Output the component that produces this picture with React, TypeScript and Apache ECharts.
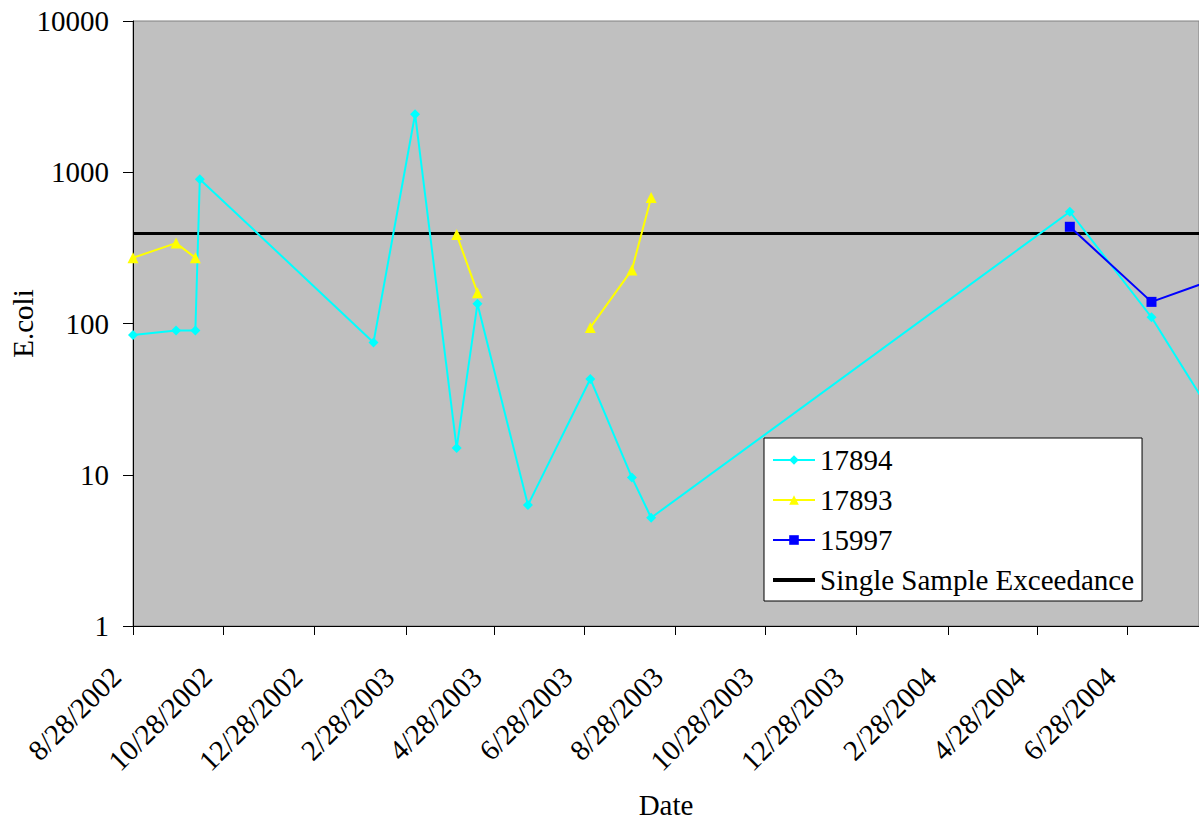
import React, { useEffect, useRef } from "react";
import * as echarts from "echarts";

// ---- data ----
const tickDates = [
  "8/28/2002", "10/28/2002", "12/28/2002", "2/28/2003", "4/28/2003", "6/28/2003",
  "8/28/2003", "10/28/2003", "12/28/2003", "2/28/2004", "4/28/2004", "6/28/2004",
];
const axisMinDate = "8/28/2002";
const axisMaxDate = "8/15/2004";

const dates17894 = [
  "8/28/2002", "9/26/2002", "10/9/2002", "10/12/2002", "2/6/2003", "3/6/2003",
  "4/3/2003", "4/17/2003", "5/21/2003", "7/2/2003", "7/30/2003", "8/12/2003",
  "5/20/2004", "7/14/2004", "8/25/2004",
];
const values17894 = [84, 90, 90, 900, 75, 2420, 15, 135, 6.3, 43, 9.6, 5.2, 548, 110, 24];

// null = no sample for this site on that date (line breaks there)
const dates17893 = [
  "8/28/2002", "9/26/2002", "10/9/2002", "2/6/2003", "4/3/2003", "4/17/2003",
  "5/21/2003", "7/2/2003", "7/30/2003", "8/12/2003",
];
const values17893 = [272, 340, 272, null, 387, 160, null, 94, 226, 680];

const dates15997 = ["5/20/2004", "7/14/2004", "8/25/2004"];
const values15997 = [436, 139, 195];

const exceedanceValue = 394;

const seriesNames = ["17894", "17893", "15997", "Single Sample Exceedance"];

function toTs(s: string): number {
  const [m, d, y] = s.split("/").map(Number);
  return Date.UTC(y, m - 1, d);
}
function pairs(dates: string[], vals: (number | null)[]) {
  return dates.map((d, i) => [toTs(d), vals[i] == null ? "-" : vals[i]]);
}

const FONT = "'Liberation Serif', 'Times New Roman', serif";

export default function App() {
  const ref = useRef<HTMLDivElement>(null);
  useEffect(() => {
    if (!ref.current) return;
    const chart = echarts.init(ref.current, undefined, { renderer: "svg" });
    const xMin = toTs(axisMinDate);
    const xMax = toTs(axisMaxDate);
    const ticks = tickDates.map(toTs);
    chart.setOption({
      animation: false,
      backgroundColor: "#ffffff",
      textStyle: { fontFamily: FONT, color: "#000" },
      grid: {
        left: 133,
        right: 0,
        top: 21,
        bottom: 195,
        containLabel: false,
        outerBoundsMode: "none",
        show: true,
        backgroundColor: "#c0c0c0",
        borderColor: "#808080",
        borderWidth: 1,
      },
      xAxis: {
        type: "value",
        min: xMin,
        max: xMax,
        name: "Date",
        nameLocation: "middle",
        nameGap: 164,
        nameMoveOverlap: false,
        nameTextStyle: { fontFamily: FONT, fontSize: 29, color: "#000" },
        axisLine: { show: true, onZero: false, lineStyle: { color: "#000", width: 1 } },
        axisTick: {
          show: true,
          inside: false,
          length: 9,
          customValues: ticks,
          lineStyle: { color: "#000" },
        },
        axisLabel: { show: false },
        splitLine: { show: false },
      },
      yAxis: {
        type: "log",
        logBase: 10,
        min: 1,
        max: 10000,
        name: "E.coli",
        nameLocation: "middle",
        nameGap: 96,
        nameMoveOverlap: false,
        nameTextStyle: { fontFamily: FONT, fontSize: 29, color: "#000" },
        axisLine: { show: true, lineStyle: { color: "#000", width: 1 } },
        axisTick: { show: true, inside: false, length: 10, lineStyle: { color: "#000" } },
        minorTick: { show: false },
        axisLabel: {
          margin: 24,
          fontFamily: FONT,
          fontSize: 29,
          color: "#000",
          formatter: (v: number) => String(Math.round(v)),
        },
        splitLine: { show: false },
      },
      legend: {
        data: [
          { name: seriesNames[0] },
          { name: seriesNames[1] },
          { name: seriesNames[2] },
          { name: seriesNames[3], icon: "path://M0,0 L42,0 L42,4 L0,4 Z" },
        ],
        orient: "vertical",
        left: 764,
        top: 438,
        backgroundColor: "#ffffff",
        borderColor: "#000000",
        borderWidth: 1,
        borderRadius: 0,
        padding: [7, 8, 6, 8],
        itemWidth: 42,
        itemHeight: 12,
        itemGap: 10,
        selectedMode: false,
        textStyle: { fontFamily: FONT, fontSize: 29, color: "#000", lineHeight: 30 },
      },
      series: [
        {
          name: seriesNames[3],
          type: "line",
          data: [
            [xMin, exceedanceValue],
            [xMax, exceedanceValue],
          ],
          symbol: "none",
          lineStyle: { color: "#000", width: 3 },
          itemStyle: { color: "#000" },
          silent: true,
        },
        {
          name: seriesNames[0],
          type: "line",
          data: pairs(dates17894, values17894),
          symbol: "diamond",
          symbolSize: 10,
          showAllSymbol: true,
          lineStyle: { color: "#00ffff", width: 2 },
          itemStyle: { color: "#00ffff" },
          clip: true,
        },
        {
          name: seriesNames[1],
          type: "line",
          data: pairs(dates17893, values17893),
          connectNulls: false,
          symbol: "triangle",
          symbolSize: 11,
          showAllSymbol: true,
          lineStyle: { color: "#ffff00", width: 2 },
          itemStyle: { color: "#ffff00" },
          clip: true,
        },
        {
          name: seriesNames[2],
          type: "line",
          data: pairs(dates15997, values15997),
          symbol: "rect",
          symbolSize: 10,
          showAllSymbol: true,
          lineStyle: { color: "#0000ff", width: 2 },
          itemStyle: { color: "#0000ff" },
          clip: true,
        },
      ],
    });

    // rotated date tick labels, placed at the x axis' own tick positions
    const axisY = chart.convertToPixel({ yAxisIndex: 0 }, 1) as number;
    const labels = ticks.map((t, i) => {
      const px = chart.convertToPixel({ xAxisIndex: 0 }, t) as number;
      return {
        type: "text",
        x: px - 17,
        y: axisY + 46,
        rotation: Math.PI / 4,
        silent: true,
        style: {
          text: tickDates[i],
          align: "right",
          verticalAlign: "middle",
          fontFamily: FONT,
          fontSize: 29,
          fill: "#000",
        },
      };
    });
    chart.setOption({ graphic: { elements: labels } });

    return () => chart.dispose();
  }, []);
  return (
    <div
      ref={ref}
      style={{ position: "fixed", left: 0, top: 0, width: 1199, height: 821 }}
    />
  );
}
